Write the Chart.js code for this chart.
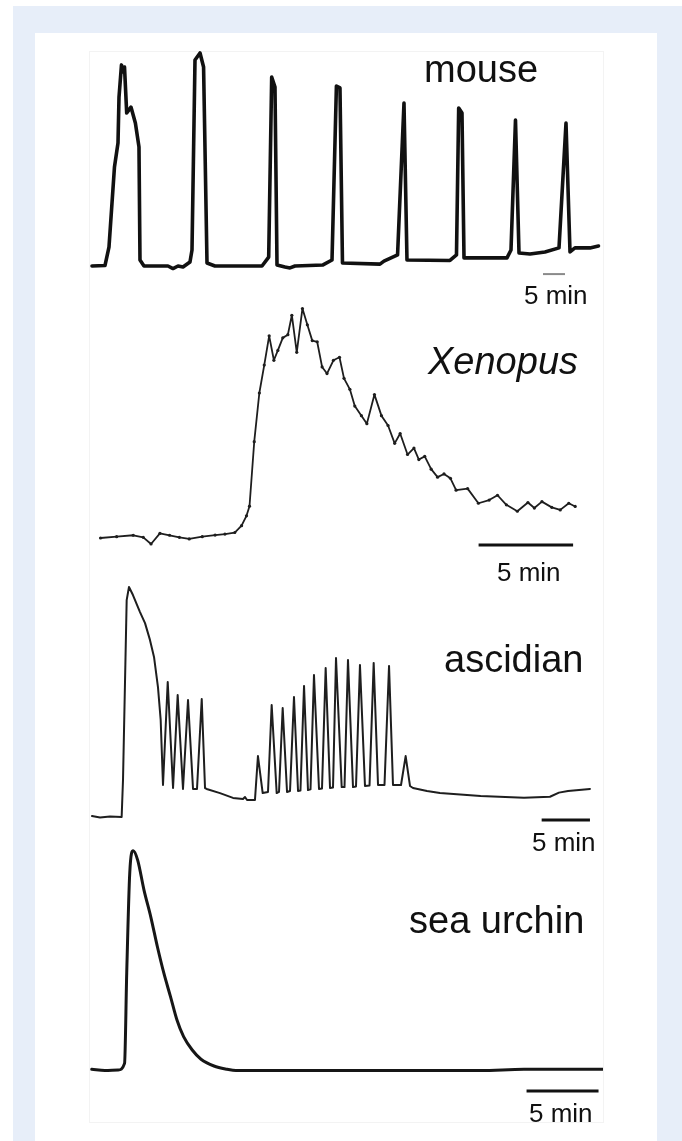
<!DOCTYPE html>
<html>
<head>
<meta charset="utf-8">
<script src="https://cdn.jsdelivr.net/npm/chart.js@4/dist/chart.umd.min.js"></script>
<style>
  html, body { margin: 0; padding: 0; background: #ffffff; }
  body { width: 682px; height: 1141px; position: relative; overflow: hidden; font-family: "Liberation Sans", Arial, Helvetica, sans-serif; }
  #blue { position: absolute; left: 13px; top: 6px; right: 0; bottom: 0; background: #e7eef9; }
  #panel { position: absolute; left: 35px; top: 33px; width: 622px; bottom: 0; background: #ffffff; }
  #fig { position: absolute; left: 89px; top: 51px; width: 513px; height: 1070px; border: 1px solid #f3f3f3; }
  canvas { position: absolute; left: 89px; }
  .lbl { position: absolute; font-size: 38px; line-height: 38px; color: #111; white-space: nowrap; }
  .sb { position: absolute; font-size: 26px; line-height: 26px; color: #111; white-space: nowrap; }
</style>
</head>
<body>
<div id="blue"></div>
<div id="panel"></div>
<div id="fig"></div>
<canvas id="cMouse" width="514" height="270" style="top:40px"></canvas>
<canvas id="cXen" width="514" height="300" style="top:290px"></canvas>
<canvas id="cAsc" width="514" height="290" style="top:575px"></canvas>
<canvas id="cUrch" width="514" height="290" style="top:835px"></canvas>

<div class="lbl" style="left:424px;top:50px;">mouse</div>
<div class="lbl" style="left:428px;top:342px;font-style:italic;">Xenopus</div>
<div class="lbl" style="left:444px;top:640px;">ascidian</div>
<div class="lbl" style="left:409px;top:901px;">sea urchin</div>

<div class="sb" style="left:524px;top:282px;">5 min</div>
<div class="sb" style="left:497px;top:559px;">5 min</div>
<div class="sb" style="left:532px;top:829px;">5 min</div>
<div class="sb" style="left:529px;top:1100px;">5 min</div>

<script>
// ---------------- DATA (time in minutes, signal in % of largest peak) ----------------
const panelNames = ["mouse", "Xenopus", "ascidian", "sea urchin"];
const scaleBarLabel = "5 min";
const scaleBarMinutes = 5;

// mouse
const mouseTime = [0,2.95,3.86,5.11,5.91,6.14,6.70,7.05,7.39,7.89,8.86,9.86,10.68,10.91,11.82,17.27,18.41,19.55,20.68,22.27,22.73,23.41,24.55,25.36,26.14,27.95,38.64,40.16,40.84,41.59,42.05,43.86,45.0,46.14,52.5,54.55,55.55,56.36,56.93,65.45,66.36,69.45,70.91,71.59,81.36,82.84,83.34,84.09,84.55,94.32,95.23,96.25,97.05,99.55,102.95,106.14,107.73,108.64,109.77,113.18,115.11];
const mouseSignal = [0,0.2,8.9,46.5,57.7,79.3,94.4,91.1,93.4,71.8,74.6,67.1,55.9,2.8,0,0,-1.2,0,-0.5,1.9,7.5,96.7,100,93.4,1.4,0,0,4.2,88.7,84.0,0.5,-0.5,-0.9,0,0.5,2.8,84.5,83.6,1.4,0.9,2.3,5.2,76.5,2.8,2.6,5.2,74.2,71.8,3.8,3.8,7.5,68.5,6.1,5.6,6.6,8.5,67.1,6.6,8.5,8.5,9.4];
const mouseBarStart = 102.5;

// Xenopus
const xenTime = [0,0.85,1.73,2.26,2.67,3.14,3.65,4.17,4.69,5.38,6.06,6.58,7.1,7.46,7.72,7.88,8.13,8.40,8.66,8.92,9.17,9.38,9.64,9.91,10.12,10.38,10.68,10.94,11.2,11.46,11.72,11.98,12.32,12.64,12.88,13.19,13.45,13.8,14.09,14.49,14.86,15.21,15.56,15.85,16.24,16.58,16.84,17.15,17.49,17.83,18.17,18.51,18.81,19.42,19.99,20.56,21.0,21.47,22.05,22.61,22.95,23.35,23.87,24.32,24.77,25.11];
const xenSignal = [-0.3,0.3,0.9,0,-2.9,1.7,0.9,0,-0.7,0.3,1.0,1.4,2.1,5.1,9.4,13.6,41.8,63.1,75.3,88.1,77.4,81.7,87.2,88.6,97.1,80.9,100,92.9,86.0,85.5,74.5,71.6,77.4,78.7,69.5,64.7,57.4,53.2,49.7,62.4,53.2,48.9,41.1,45.4,36.2,39.0,34.0,35.4,29.8,26.3,27.7,25.8,20.6,21.3,14.9,16.3,18.4,14.2,11.4,15.2,12.8,15.6,13.1,12.0,14.9,13.5];
const xenBarStart = 20.0;

// ascidian
const ascTime = [0,0.83,1.86,3.07,3.21,3.59,3.83,4.24,4.97,5.49,6.0,6.42,6.83,7.11,7.35,7.84,8.39,8.87,9.42,9.94,10.46,10.87,11.36,11.70,11.87,13.25,14.6,15.63,15.84,16.05,16.87,17.18,17.67,18.22,18.60,19.12,19.36,19.74,20.19,20.50,20.91,21.33,21.58,21.95,22.36,22.62,22.98,23.50,23.81,24.19,24.64,24.95,25.26,25.85,26.14,26.5,27.02,27.33,27.74,28.26,28.73,29.16,29.61,30.28,30.75,31.16,31.99,32.47,32.92,33.23,34.68,36.02,40.23,44.72,47.41,48.34,49.28,51.55];
const ascSignal = [0.4,-0.2,0.2,0,16.1,94.3,100,96.5,89.1,84.3,77.0,69.6,56.5,42.2,13.9,58.7,12.6,53.0,12.2,50.9,12.2,12.2,51.3,12.6,12.2,10.4,8.3,7.8,8.7,7.4,7.4,26.5,10.4,10.9,48.7,10.4,10.9,47.4,10.9,11.3,52.2,11.3,11.5,57.0,11.7,12.0,61.7,12.2,12.4,64.8,12.6,12.8,69.1,13.0,13.0,68.3,13.0,13.3,66.1,13.5,13.7,67.0,13.9,13.9,65.7,13.9,13.9,26.5,13.5,12.6,11.3,10.4,9.1,8.4,8.8,10.6,11.3,12.2];
const ascBarStart = 46.55;

// sea urchin
const urchTime = [0,0.92,1.83,2.28,2.43,2.64,2.88,3.19,3.63,4.10,4.56,5.01,5.47,5.92,6.38,6.98,7.59,8.49,9.40,10.02,14.47,21.41,27.01,30.02,35.5];
const urchSignal = [0.1,-0.5,-0.2,2.8,44.1,89.8,100,95.7,82.0,69.8,56.1,44.0,33.3,22.6,15.0,8.9,4.7,1.6,0.1,-0.5,-0.5,-0.5,-0.5,0.1,0.1];
const urchBarStart = 30.2;

// ---------------- chart construction ----------------
function zip(t, v) { return t.map((x, i) => ({ x: x, y: v[i] })); }

function makePanel(id, time, signal, barStart, barY, cfg) {
  const ctx = document.getElementById(id).getContext('2d');
  const datasets = [
    {
      data: zip(time, signal),
      borderColor: cfg.color,
      borderWidth: cfg.width,
      pointRadius: cfg.pointRadius || 0,
      pointBackgroundColor: cfg.color,
      pointBorderWidth: 0,
      tension: 0,
      cubicInterpolationMode: cfg.smooth ? 'monotone' : 'default',
      clip: false,
      borderJoinStyle: 'round',
      borderCapStyle: 'round'
    },
    {
      data: [{ x: barStart, y: barY }, { x: barStart + scaleBarMinutes, y: barY }],
      borderColor: cfg.barColor,
      borderWidth: cfg.barWidth,
      pointRadius: 0,
      clip: false
    }
  ];
  return new Chart(ctx, {
    type: 'line',
    data: { datasets: datasets },
    options: {
      responsive: false,
      animation: false,
      events: [],
      layout: { padding: 0 },
      plugins: { legend: { display: false }, tooltip: { enabled: false }, title: { display: false } },
      scales: {
        x: { type: 'linear', display: false, min: cfg.xmin, max: cfg.xmax },
        y: { type: 'linear', display: false, min: cfg.ymin, max: cfg.ymax }
      }
    }
  });
}

makePanel('cMouse', mouseTime, mouseSignal, mouseBarStart, -3.8,
  { color: '#111111', width: 3.6, barColor: '#8a8a8a', barWidth: 2, xmin: -0.68, xmax: 116.14, ymin: -20.66, ymax: 106.10 });
makePanel('cXen', xenTime, xenSignal, xenBarStart, -3.4,
  { color: '#1e1e1e', width: 1.8, pointRadius: 1.6, barColor: '#111111', barWidth: 3, xmin: -0.40, xmax: 26.37, ymin: -21.28, ymax: 106.38 });
makePanel('cAsc', ascTime, ascSignal, ascBarStart, -1.3,
  { color: '#1e1e1e', width: 2, barColor: '#111111', barWidth: 3, xmin: -0.31, xmax: 52.9, ymin: -20.87, ymax: 105.22 });
makePanel('cUrch', urchTime, urchSignal, urchBarStart, -9.83,
  { color: '#161616', width: 3, smooth: true, barColor: '#111111', barWidth: 3, xmin: -0.19, xmax: 35.51, ymin: -25.36, ymax: 107.18 });
</script>
</body>
</html>
